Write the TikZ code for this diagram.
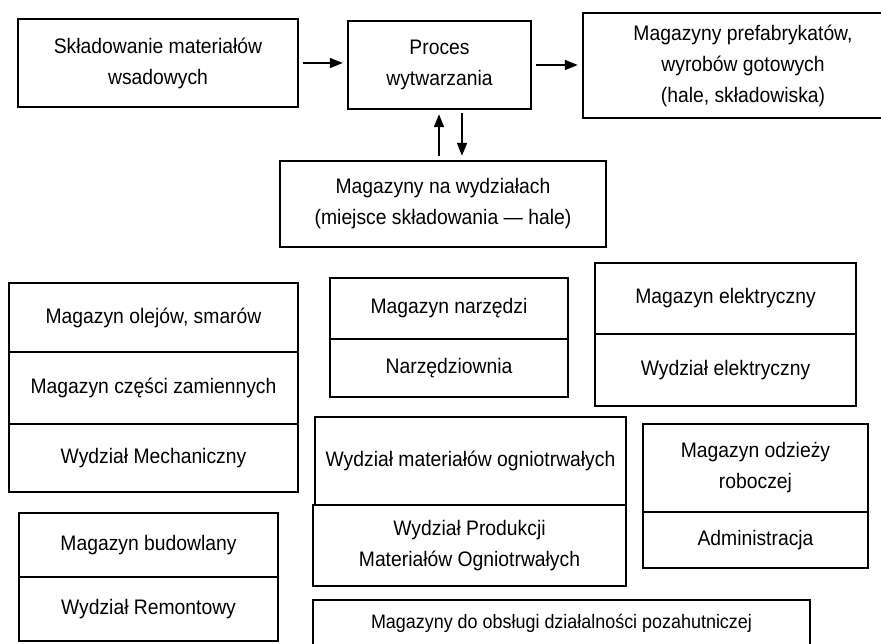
\documentclass[tikz,border=0pt]{standalone}
\usepackage{fontspec}
\setmainfont[FakeStretch=0.92]{Liberation Sans}
\usetikzlibrary{arrows.meta}
\begin{document}
\begin{tikzpicture}[x=1pt,y=-1pt,
  box/.style={draw,line width=1.4pt,align=center,inner sep=0pt,
    font=\fontsize{21}{31}\selectfont},
  flow/.style={line width=1.7pt,-{Triangle[length=13pt,width=10pt]},shorten <=4.5pt,shorten >=4.5pt}]
\useasboundingbox (0,0) rectangle (881,644);
\clip (0,0) rectangle (881,644);
\node[box,minimum width=280,minimum height=88] (sklad) at (158,63) {Składowanie materiałów\\wsadowych};
\node[box,minimum width=183,minimum height=88] (proces) at (439.5,65) {Proces\\wytwarzania};
\node[box,minimum width=320,minimum height=105] (prefab) at (743,65.5) {Magazyny prefabrykatów,\\wyrobów gotowych\\(hale, składowiska)};
\node[box,minimum width=326,minimum height=86] (wydz) at (443,204) {Magazyny na wydziałach\\(miejsce składowania — hale)};
\coordinate (up) at (439,161);
\coordinate (dn) at (462,109);
\draw[flow] (sklad.east) -- (sklad.east -| proces.west);
\draw[flow] (proces.east) -- (proces.east -| prefab.west);
\draw[flow] (up) -- (up |- proces.south);
\draw[flow] (dn) -- (dn |- wydz.north);
\node[box,minimum width=289,minimum height=69] (oleje) at (153.5,317.5) {Magazyn olejów, smarów};
\node[box,minimum width=289,minimum height=72] (czesci) at (153.5,388) {Magazyn części zamiennych};
\node[box,minimum width=289,minimum height=68] (mech) at (153.5,458) {Wydział Mechaniczny};
\node[box,minimum width=259,minimum height=64] (budowl) at (148.5,545) {Magazyn budowlany};
\node[box,minimum width=259,minimum height=64] (remont) at (148.5,609) {Wydział Remontowy};
\node[box,minimum width=238,minimum height=61] (narz) at (449,308.5) {Magazyn narzędzi};
\node[box,minimum width=238,minimum height=58] (narzown) at (449,368) {Narzędziownia};
\node[box,minimum width=261,minimum height=71] (elmag) at (725.5,298.5) {Magazyn elektryczny};
\node[box,minimum width=261,minimum height=72] (elwydz) at (725.5,370) {Wydział elektryczny};
\node[box,minimum width=311,minimum height=88] (ognio) at (470.5,461) {Wydział materiałów ogniotrwałych};
\node[box,minimum width=313,minimum height=81] (prod) at (469.5,545.5) {Wydział Produkcji\\Materiałów Ogniotrwałych};
\node[box,minimum width=225,minimum height=88] (odziez) at (755.5,468) {Magazyn odzieży\\roboczej};
\node[box,minimum width=225,minimum height=56] (admin) at (755.5,540) {Administracja};
\node[box,minimum width=497,minimum height=46,font=\fontsize{19.5}{30}\selectfont] (pozahut) at (561.5,623) {Magazyny do obsługi działalności pozahutniczej};
\end{tikzpicture}
\end{document}
